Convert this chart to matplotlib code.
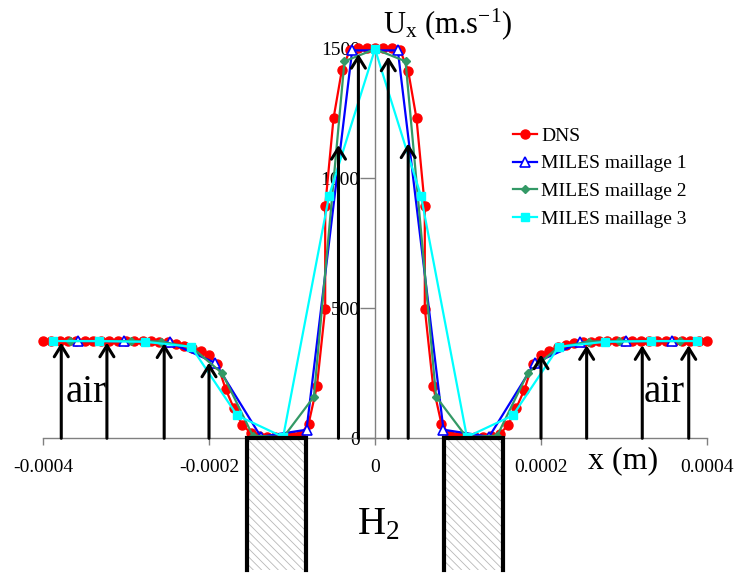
import numpy as np
import matplotlib.pyplot as plt
from matplotlib.patches import Rectangle

plt.rcParams['font.family'] = ['Liberation Serif', 'DejaVu Serif']
plt.rcParams['mathtext.fontset'] = 'custom'
plt.rcParams['mathtext.rm'] = 'Liberation Serif'
plt.rcParams['mathtext.it'] = 'Liberation Serif:italic'
plt.rcParams['axes.unicode_minus'] = False
plt.rcParams['hatch.linewidth'] = 0.6

# x positions in micrometres, Ux in m/s
x_dns = [-400, -390, -380, -370, -360, -350, -340, -330, -320, -310, -300, -290, -280, -270,
         -260, -250, -240, -230, -220, -210, -200, -190, -180, -170, -160, -150, -140, -130,
         -120, -110, -100, -90, -80, -70, -60, -60, -50, -40, -30, -20, -10, 0,
         10, 20, 30, 40, 50, 60, 60, 70, 80, 90, 100, 110, 120, 130, 140, 150, 160, 170,
         180, 190, 200, 210, 220, 230, 240, 250, 260, 270, 280, 290, 300, 310, 320, 330,
         340, 350, 360, 370, 380, 390, 400]
u_dns = [374, 374, 374, 374, 374, 374, 374, 374, 374, 374, 374, 374, 374, 373,
         372, 370, 364, 356, 348, 336, 319, 287, 190, 115, 52, 22, 8, 6,
         5, 5, 7, 13, 56, 200, 499, 893, 1230, 1415, 1495, 1500, 1500, 1500,
         1500, 1500, 1495, 1413, 1230, 893, 499, 201, 56, 12, 7, 5, 5, 6, 8, 15, 50, 115,
         187, 287, 319, 336, 350, 358, 365, 370, 372, 373, 374, 374, 374, 374, 374, 374,
         374, 374, 374, 374, 374, 374, 374]

x_m1 = [-357.5, -302.5, -247.5, -192.5, -137.5, -82.5, -27.5,
        27.5, 82.5, 137.5, 192.5, 247.5, 302.5, 357.5]
u_m1 = [374, 374, 369, 290, 6, 33, 1492, 1492, 33, 6, 290, 369, 374, 374]

x_m2 = [-368.0, -331.2, -294.4, -257.6, -220.8, -184.0, -147.2, -110.4, -73.6, -36.8, 0.0,
        36.8, 73.6, 110.4, 147.2, 184.0, 220.8, 257.6, 294.4, 331.2, 368.0]
u_m2 = [374, 374, 374, 372, 350, 250, 10, 4, 160, 1450, 1497,
        1450, 160, 4, 10, 250, 350, 372, 374, 374, 374]

x_m3 = [-387.5, -332.1, -276.8, -221.4, -166.1, -110.7, -55.4, 0.0,
        55.4, 110.7, 166.1, 221.4, 276.8, 332.1, 387.5]
u_m3 = [374, 374, 371, 352, 88, 5, 932, 1497, 932, 5, 88, 352, 371, 374, 374]

# velocity arrows (x in micrometres, top in m/s)
arrow_x = [-378, -323, -254, -200, -44, -20, 16, 40, 200, 255, 322, 378]
arrow_top = [368, 368, 365, 291, 1128, 1478, 1468, 1134, 322, 358, 358, 358]

# hydrogen injector walls (micrometres)
walls = [(-154, -83), (83, 154)]

um = 1e-6
W, H = 735, 574


def px2x(px):
    return (px - 375) * 0.0008 / 664


def py2y(py):
    return (438.3 - py) / 0.26


fig = plt.figure(figsize=(W / 100, H / 100), dpi=100)
ax = fig.add_axes([43 / W, 0, 664 / W, (574 - 48.3) / H])
ax.set_xlim(-0.0004, 0.0004)
ax.set_ylim(py2y(574), 1500)

ax.plot(np.array(x_dns) * um, u_dns, '-o', color='#FF0000', lw=1.6, ms=6.5,
        label='DNS', clip_on=False, zorder=3)
ax.plot(np.array(x_m1) * um, u_m1, '-^', color='#0000FF', mfc='white', mec='#0000FF',
        mew=1.2, lw=1.6, ms=6.5, label='MILES maillage 1', clip_on=False, zorder=4)
ax.plot(np.array(x_m2) * um, u_m2, '-D', color='#339966', lw=1.6, ms=4.5,
        label='MILES maillage 2', clip_on=False, zorder=5)
ax.plot(np.array(x_m3) * um, u_m3, '-s', color='#00FFFF', lw=1.6, ms=5.5,
        label='MILES maillage 3', clip_on=False, zorder=6)

for xa, ya in zip(arrow_x, arrow_top):
    ax.annotate('', xy=(xa * um, ya), xytext=(xa * um, 0),
                arrowprops=dict(arrowstyle='->,head_length=0.45,head_width=0.28',
                                color='black', lw=2.2, mutation_scale=18,
                                shrinkA=0, shrinkB=0),
                zorder=7, annotation_clip=False)

ybot = -505
for x0, x1 in walls:
    ax.add_patch(Rectangle((x0 * um, ybot), (x1 - x0) * um, -ybot, facecolor='white',
                           edgecolor='#b8b8b8', lw=0, hatch='\\\\\\\\', zorder=8,
                           clip_on=False))
    ax.plot([x0 * um, x0 * um, x1 * um, x1 * um], [ybot, 0, 0, ybot], color='black',
            lw=3, zorder=9, clip_on=False, solid_joinstyle='miter')

# axes through the origin
for s in ['top', 'right']:
    ax.spines[s].set_visible(False)
ax.spines['left'].set_position(('data', 0))
ax.spines['bottom'].set_position(('data', 0))
ax.spines['left'].set_bounds(0, 1500)
ax.spines['bottom'].set_bounds(-0.0004, 0.0004)
for s in ['left', 'bottom']:
    ax.spines[s].set_color('#808080')
    ax.spines[s].set_linewidth(1.0)
    ax.spines[s].set_zorder(2)

ax.set_xticks([-0.0004, -0.0002, 0, 0.0002, 0.0004])
ax.set_xticklabels(['-0.0004', '-0.0002', '0', '0.0002', '0.0004'])
ax.set_yticks([0, 500, 1000, 1500])
ax.set_yticklabels(['0', '500', '1000', '1500'])
ax.tick_params(axis='x', direction='out', length=5, width=1, color='#808080',
               labelsize=14, pad=10)
ax.tick_params(axis='y', direction='out', length=11, width=1, color='#808080',
               labelsize=14, pad=0)

ax.text(px2x(86), py2y(402), 'air', ha='center', va='baseline', fontsize=28)
ax.text(px2x(664), py2y(402), 'air', ha='center', va='baseline', fontsize=28)
ax.text(px2x(378), py2y(534), r'H$_\mathrm{2}$', ha='center', va='baseline',
        fontsize=28, zorder=10)
fig.text(383 / W, 1 - 33 / H, r'U$_\mathrm{x}$ (m.s$^{\mathrm{-1}}$)', fontsize=22,
         va='baseline')
fig.text(588 / W, 1 - 468 / H, 'x (m)', fontsize=23, va='baseline')

ax.legend(loc='upper left', bbox_to_anchor=(513 / W, 1 - 127 / H),
          bbox_transform=fig.transFigure, frameon=False, fontsize=14,
          borderpad=0, borderaxespad=0, handlelength=1.25, handletextpad=0.2,
          labelspacing=0.52)

fig.savefig('out.png', dpi=100)
